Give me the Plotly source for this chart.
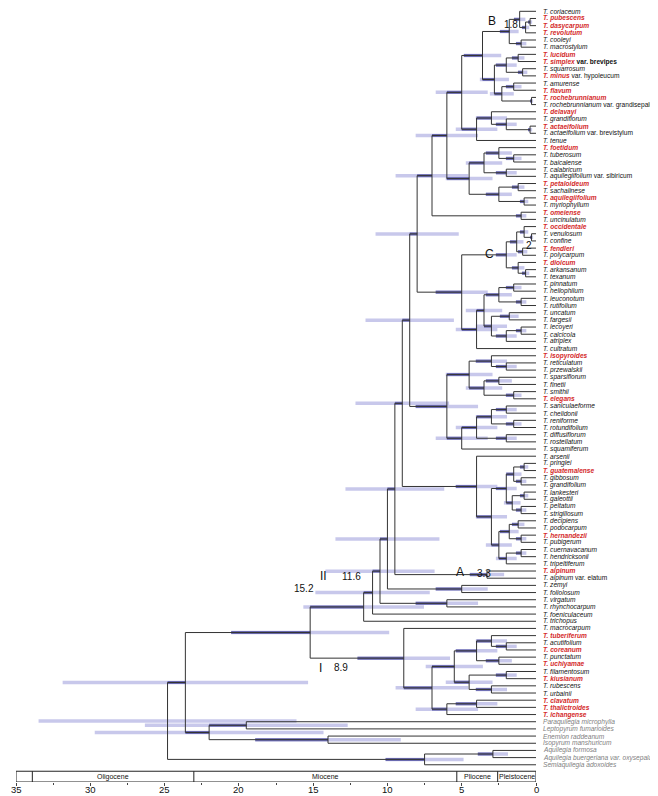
import plotly.graph_objects as go

tips = ["T. coriaceum","T. pubescens","T. dasycarpum","T. revolutum","T. cooleyi","T. macrostylum",
"T. lucidum","T. simplex|var. brevipes","T. squarrosum","T. minus|var. hypoleucum","T. amurense","T. flavum",
"T. rochebrunnianum","T. rochebrunnianum|var. grandisepalum","T. delavayi","T. grandiflorum","T. actaeifolium",
"T. actaeifolium|var. brevistylum","T. tenue","T. foetidum","T. tuberosum","T. baicalense","T. calabricum",
"T. aquilegiifolium|var. sibiricum","T. petaloideum","T. sachalinese","T. aquilegiifolium","T. myriophyllum",
"T. omeiense","T. uncinulatum","T. occidentale","T. venulosum","T. confine","T. fendleri","T. polycarpum",
"T. dioicum","T. arkansanum","T. texanum","T. pinnatum","T. heliophilum","T. leuconotum","T. rutifolium",
"T. uncatum","T. fargesii","T. lecoyeri","T. calcicola","T. atriplex","T. cultratum","T. isopyroides",
"T. reticulatum","T. przewalskii","T. sparsiflorum","T. finetii","T. smithii","T. elegans","T. saniculaeforme",
"T. chelidonii","T. reniforme","T. rotundifolium","T. diffusiflorum","T. rostellatum","T. squamiferum",
"T. arsenii","T. pringlei","T. guatemalense","T. gibbosum","T. grandifolium","T. lankesteri","T. galeottii",
"T. peltatum","T. strigillosum","T. decipiens","T. podocarpum","T. hernandezii","T. pubigerum",
"T. cuernavacanum","T. hendricksonii","T. tripeltiferum","T. alpinum","T. alpinum|var. elatum","T. zemyi",
"T. foliolosum","T. virgatum","T. rhynchocarpum","T. foeniculaceum","T. trichopus","T. macrocarpum",
"T. tuberiferum","T. acutifolium","T. coreanum","T. punctatum","T. uchiyamae","T. filamentosum",
"T. kiusianum","T. rubescens","T. urbainii","T. clavatum","T. thalictroides","T. ichangense",
"Paraquilegia microphylla","Leptopyrum fumarioides","Enemion raddeanum","Isopyrum manshuricum",
"Aquilegia formosa","Aquilegia buergeriana var. oxysepala","Semiaquilegia adoxoides"]

red_tips = {1,2,3,6,7,9,11,12,14,16,19,24,26,28,30,33,35,48,54,64,73,78,87,89,91,93,96,97,98}
gray_tips = {99,100,101,102,103,104,105}
bold_var = {7}

# internal nodes: id, children, age (Ma)
nodes = [
("b1",[1,2],0.4),("b2",["b1",3],0.7),("b3",[0,"b2"],1.1),("b4",[4,5],1.0),("B",["b3","b4"],1.8),
("g1",[6,7],1.2),("g2",[8,9],0.9),("g3",["g1","g2"],2.0),("g4",[10,11],1.5),("g5",[12,13],0.3),
("g6",["g4","g5"],2.3),("g7",["g3","g6"],2.8),("g8",["B","g7"],3.6),
("h1",[16,17],0.4),("h2",[15,"h1"],2.0),("h3",[14,"h2"],3.0),("h4",["h3",18],4.0),("h5",["g8","h4"],5.0),
("i1",[20,21],1.5),("i2",[19,"i1"],2.5),("i3",[22,23],2.0),("i4",["i2","i3"],3.5),("i5",[24,25],1.2),
("i6",[26,27],0.8),("i7",["i5","i6"],2.5),("i8",["i4","i7"],4.5),("i9",["h5","i8"],6.0),
("j1",[28,29],1.0),("j2",["i9","j1"],7.0),
("c1",[31,32],0.3),("c2",[30,"c1"],0.8),("c3",[33,34],0.9),("c4",["c2","c3"],1.3),("c5",[36,37],0.7),
("c6",[35,"c5"],1.2),("C",["c4","c6"],2.0),
("k1",[38,39],1.5),("k2",[40,41],1.0),("k3",["k1","k2"],2.5),("k4",[42,43],1.8),("k5",[44,45],1.0),
("k6",["k5",46],2.0),("k7",["k4","k6"],3.0),("k8",["k3","k7"],3.5),("k9",["k8",47],4.0),("k10",["C","k9"],5.0),
("l1",["j2","k10"],8.0),
("m1",[49,50],2.0),("m2",[48,"m1"],3.0),("m3",[51,52],2.5),("m4",[53,54],1.5),("m5",["m3","m4"],3.5),
("m6",["m2","m5"],4.5),("m7",[55,56],2.0),("m8",[57,58],1.5),("m9",["m7","m8"],3.0),("m10",[59,60],2.0),
("m11",["m9","m10"],4.0),("m12",["m11",61],5.0),("m13",["m6","m12"],6.0),("l2",["l1","m13"],8.5),
("n1",[63,64],0.8),("n2",[65,66],1.0),("n3",["n1","n2"],1.5),("n4",[67,68],0.8),("n5",[69,70],1.0),
("n6",["n4","n5"],1.6),("n7",["n3","n6"],2.0),("n8",[71,72],1.2),("n9",[73,74],1.0),("n10",["n8","n9"],1.8),
("n11",[75,76],1.0),("n12",["n11",77],2.0),("n13",["n10","n12"],2.5),("n14",["n7","n13"],3.0),
("n15",[62,"n14"],4.0),("l3",["l2","n15"],9.0),
("A",[78,79],3.3),("l4",["l3","A"],9.5),("o1",[80,81],5.0),("l5",["l4","o1"],10.0),("o2",[82,83],6.0),
("l6",["l5","o2"],10.5),("l7",["l6",84],11.0),("II",["l7",85],11.6),
("p1",[88,89],2.0),("p2",[87,"p1"],3.0),("p3",[90,91],2.5),("p4",["p2","p3"],4.0),("p5",[92,93],2.0),
("p6",[94,95],3.0),("p7",["p5","p6"],4.5),("p8",["p4","p7"],5.5),("p9",[96,97],4.0),("p10",["p9",98],6.0),
("p11",["p8","p10"],7.0),("I",[86,"p11"],8.9),
("T",["II","I"],15.2),
("q1",[99,100],19.5),("q2",[101,102],14.0),("q3",["q1","q2"],22.0),("r1",["T","q3"],23.6),
("s1",[103,104],2.9),("s2",["s1",105],7.5),("root",["r1","s2"],24.8),
]

# node annotations: text, x (Ma), y (tip units), font size
node_texts = [("B", 2.95, 1.4, 12), ("1.8", 1.68, 1.8, 10),
              ("C", 3.15, 33.8, 12), ("2", 0.45, 32.6, 10),
              ("A", 5.1, 78.1, 12), ("3.3", 3.5, 78.3, 10),
              ("II", 14.3, 78.7, 12), ("11.6", 12.4, 78.8, 10),
              ("15.2", 15.6, 80.5, 10),
              ("I", 14.5, 91.5, 12), ("8.9", 13.1, 91.5, 10)]

epochs = ["Oligocene","Miocene","Pliocene","Pleistocene"]
epoch_bounds = [33.9, 23.03, 5.33, 2.58, 0.0]
tick_vals = [35, 30, 25, 20, 15, 10, 5, 0]

# ---------------- geometry ----------------
node_map = {n[0]: n for n in nodes}
age = {}
ypos = {}
for i in range(len(tips)):
    age[i] = 0.0
    ypos[i] = float(i)
for nid, ch, a in nodes:
    age[nid] = a
def gety(k):
    if k in ypos:
        return ypos[k]
    ch = node_map[k][1]
    y = (gety(ch[0]) + gety(ch[-1])) / 2
    ypos[k] = y
    return y
for n in nodes:
    gety(n[0])
parent = {}
for nid, ch, a in nodes:
    for c in ch:
        parent[c] = nid

bx, by = [], []
for nid, ch, a in nodes:
    bx += [a, a, None]
    by += [ypos[ch[0]], ypos[ch[-1]], None]
    for c in ch:
        bx += [a, age[c], None]
        by += [ypos[c], ypos[c], None]

fig = go.Figure()
lx, ly, dx, dy = [], [], [], []
for nid, ch, a in nodes:
    lo, hi = a * 1.35, a * 0.65
    pa = age[parent[nid]] if nid in parent else a
    lx += [lo, hi, None]
    ly += [ypos[nid], ypos[nid], None]
    dend = min(lo, pa)
    if dend > a:
        dx += [dend, a, None]
        dy += [ypos[nid], ypos[nid], None]
fig.add_trace(go.Scatter(x=lx, y=ly, mode="lines", line=dict(color="rgba(190,190,232,0.85)", width=3.5),
                         hoverinfo="skip", showlegend=False))
fig.add_trace(go.Scatter(x=dx, y=dy, mode="lines", line=dict(color="rgba(95,95,170,0.9)", width=3),
                         hoverinfo="skip", showlegend=False))
fig.add_trace(go.Scatter(x=bx, y=by, mode="lines", line=dict(color="#333", width=1),
                         hoverinfo="skip", showlegend=False))

RED = "#d42a2a"
for i, t in enumerate(tips):
    parts = t.split("|")
    if i in gray_tips:
        txt = f"<i>{t}</i>"
        col = "#808080"
    elif i in red_tips:
        txt = f"<b><i>{parts[0]}</i></b>"
        if len(parts) > 1:
            txt += f" <span style='color:#111'>{'<b>'+parts[1]+'</b>' if i in bold_var else parts[1]}</span>"
        col = RED
    else:
        txt = f"<i>{parts[0]}</i>"
        if len(parts) > 1:
            txt += f" {parts[1]}"
        col = "#111111"
    fig.add_annotation(x=0, y=i, xref="x", yref="y", text=txt, showarrow=False, xanchor="left",
                       xshift=5, font=dict(size=6.6, color=col, family="Liberation Sans"))

for txt, xa, ya, fs in node_texts:
    fig.add_annotation(x=xa, y=ya, text=txt, showarrow=False, xanchor="center", yanchor="middle",
                       font=dict(size=fs, color="#111", family="Liberation Sans"))

# geologic time bar
ytop, ybot = 105.9, 107.4
fig.add_shape(type="rect", x0=35, x1=0, y0=ytop, y1=ybot, line=dict(color="#222", width=1))
for b in epoch_bounds[:-1]:
    fig.add_shape(type="line", x0=b, x1=b, y0=ytop, y1=ybot, line=dict(color="#222", width=1))
for k, name in enumerate(epochs):
    xm = (epoch_bounds[k] + epoch_bounds[k + 1]) / 2
    fig.add_annotation(x=xm, y=(ytop + ybot) / 2, text=name, showarrow=False,
                       font=dict(size=7, color="#111", family="Liberation Sans"))
for v in tick_vals:
    fig.add_annotation(x=v, y=0, xref="x", yref="paper", text=str(v), showarrow=False, yanchor="top",
                       yshift=-1, borderpad=0, font=dict(size=9.5, color="#111", family="Liberation Sans"))

fig.update_xaxes(range=[35, 0], tickvals=tick_vals, ticks="outside", ticklen=3, showticklabels=False,
                 showgrid=False, zeroline=False, showline=False,
                 minor=dict(tickvals=[2.5 + 5 * k for k in range(7)], ticks="outside", ticklen=2))
fig.update_yaxes(range=[107.4, -0.46], visible=False)
fig.update_layout(width=658, height=796, margin=dict(l=8, r=130, t=0, b=22),
                  plot_bgcolor="white", paper_bgcolor="white")
fig.write_html("out.html")
